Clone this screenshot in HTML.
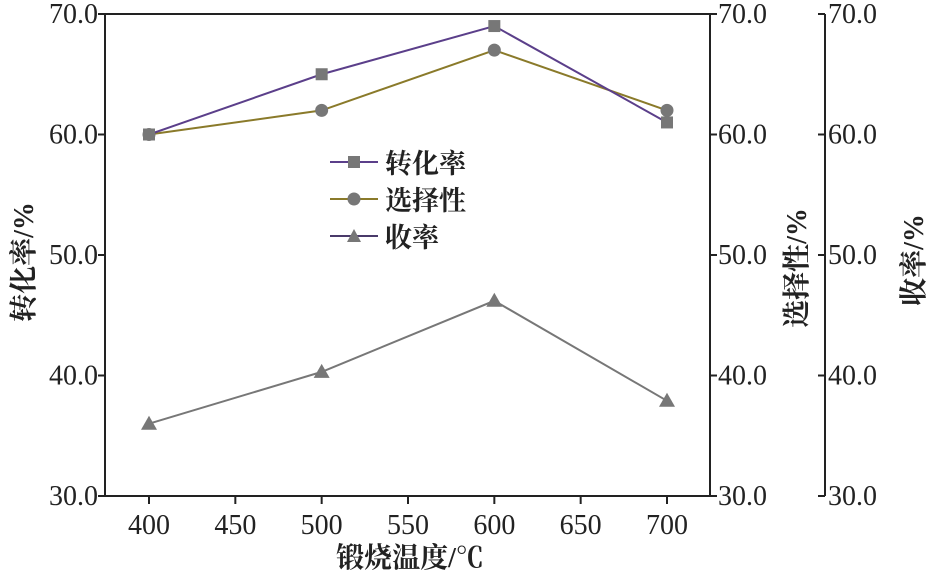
<!DOCTYPE html>
<html><head><meta charset="utf-8"><style>
body{margin:0;background:#fff}
svg{display:block;font-family:"Liberation Serif","Noto Serif CJK SC",serif}
</style></head><body>
<svg id="chart" width="930" height="572" viewBox="0 0 930 572" xmlns="http://www.w3.org/2000/svg">
<g id="axes"></g><g id="series"></g>
<g font-size="27" font-weight="bold" font-family="'Noto Serif CJK SC',serif" fill="#222">
 <g>
  <line x1="330" y1="162" x2="378" y2="162" stroke="#5b3f8a" stroke-width="2"/>
  <rect x="348" y="156" width="12" height="12" fill="#777"/>
  <text x="385" y="173">转化率</text></g>
 <g>
  <line x1="330" y1="199" x2="378" y2="199" stroke="#8a7a2a" stroke-width="2"/>
  <circle cx="354" cy="199" r="6.5" fill="#777"/>
  <text x="385" y="210">选择性</text></g>
 <g>
  <line x1="330" y1="236" x2="378" y2="236" stroke="#4a3a6a" stroke-width="2"/>
  <polygon points="354,229 361,242 347,242" fill="#777"/>
  <text x="385" y="247">收率</text></g>
</g>
</svg>
<script>
const categories=[400,500,600,700];
const conversion=[60,65,69,61];
const selectivity=[60,62,67,62];
const yieldVals=[36,40.3,46.2,37.9];
const xTicks=[400,450,500,550,600,650,700];
const yTicks=[30,40,50,60,70];
const NS="http://www.w3.org/2000/svg";
const L=105,R=710,R2=825,T=14,B=496;
function xs(v){return 149+(v-400)*(667-149)/300;}
function ys(v){return B-(v-30)*(B-T)/40;}
function mk(tag,attrs,parent,txt){const e=document.createElementNS(NS,tag);for(const k in attrs)e.setAttribute(k,attrs[k]);if(txt!==undefined)e.textContent=txt;parent.appendChild(e);return e;}
const ax=document.getElementById('axes');
let frame=mk('path',{d:`M${L},${T}H${R}V${B}H${L}Z`,fill:'none',stroke:'#222','stroke-width':2},ax);


let a3=mk('line',{x1:R2,y1:T,x2:R2,y2:B,stroke:'#222','stroke-width':2},ax);


const FS=28;
xTicks.forEach(t=>{const x=xs(t);
 mk('line',{x1:x,y1:B,x2:x,y2:B+8,stroke:'#222','stroke-width':2},ax);
 let tx=mk('text',{x:x,y:B+38,'text-anchor':'middle','font-size':FS,fill:'#222'},ax,t);
 
 });
yTicks.forEach(t=>{const y=ys(t);const s=t.toFixed(1);
 mk('line',{x1:L-7,y1:y,x2:L,y2:y,stroke:'#222','stroke-width':2},ax);
 mk('line',{x1:R,y1:y,x2:R+7,y2:y,stroke:'#222','stroke-width':2},ax);
 mk('line',{x1:R2-7,y1:y,x2:R2,y2:y,stroke:'#222','stroke-width':2},ax);
 let a=mk('text',{x:L-7,y:y+9,'text-anchor':'end','font-size':FS,fill:'#222'},ax,s);
 
 
 let b=mk('text',{x:R+8,y:y+9,'font-size':FS,fill:'#222'},ax,s);
 
 
 let c=mk('text',{x:R2+3,y:y+9,'font-size':FS,fill:'#222'},ax,s);
 
 });
let xt=mk('text',{x:410,y:567,'text-anchor':'middle','font-size':28,'font-weight':'bold',fill:'#222'},ax,'锻烧温度/℃');


let yt1=mk('text',{x:0,y:0,'text-anchor':'middle','font-size':28,'font-weight':'bold',fill:'#222',transform:'translate(33,262) rotate(-90)'},ax,'转化率/%');


let yt2=mk('text',{x:0,y:0,'text-anchor':'middle','font-size':28,'font-weight':'bold',fill:'#222',transform:'translate(806,268) rotate(-90)'},ax,'选择性/%');


let yt3=mk('text',{x:0,y:0,'text-anchor':'middle','font-size':28,'font-weight':'bold',fill:'#222',transform:'translate(923,260) rotate(-90)'},ax,'收率/%');


const sg=document.getElementById('series');
function series(vals,color,marker,name){
 const g=mk('g',{},sg);
 
 
 let line=mk('polyline',{points:vals.map((v,i)=>xs(categories[i])+','+ys(v)).join(' '),fill:'none',stroke:color,'stroke-width':2},g);
 
 
 vals.forEach((v,i)=>{const x=xs(categories[i]),y=ys(v);let m;
  if(marker==='sq')m=mk('rect',{x:x-6,y:y-6,width:12,height:12,fill:'#777'},g);
  else if(marker==='ci')m=mk('circle',{cx:x,cy:y,r:6.5,fill:'#777'},g);
  else m=mk('polygon',{points:`${x},${y-8} ${x+8},${y+6} ${x-8},${y+6}`,fill:'#777'},g);
  
  });
}
series(yieldVals,'#777','tri','yield');
series(selectivity,'#8a7a2a','ci','selectivity');
series(conversion,'#5b3f8a','sq','conversion');
</script>
</body></html>
